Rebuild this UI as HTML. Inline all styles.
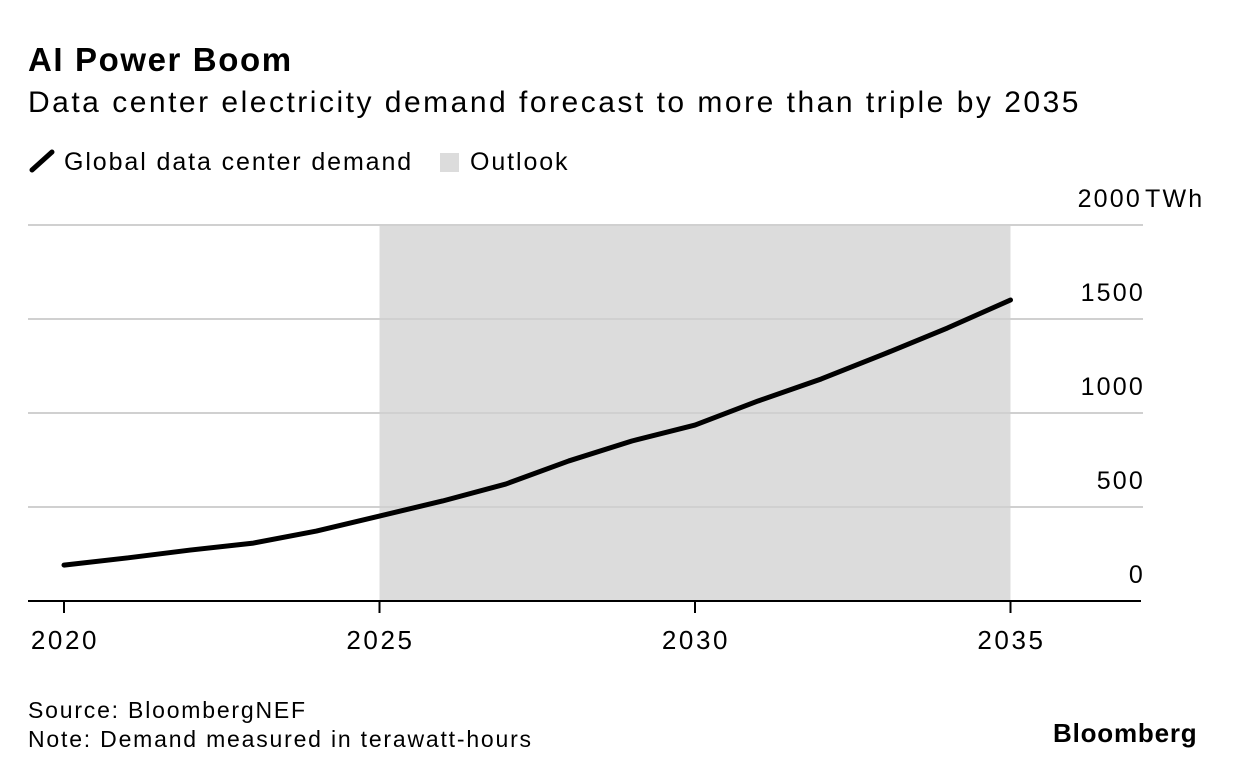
<!DOCTYPE html>
<html><head><meta charset="utf-8"><style>
body{margin:0;background:#fff;font-family:"Liberation Sans",sans-serif;color:#000;}
#wrap{position:relative;width:1233px;height:778px;overflow:hidden;}
.t{position:absolute;white-space:nowrap;}
</style></head><body>
<div id="wrap">
<div class="t" style="left:28px;top:41px;font-size:33px;font-weight:bold;letter-spacing:1.6px;">AI Power Boom</div>
<div class="t" style="left:28px;top:86px;font-size:30px;letter-spacing:2.5px;">Data center electricity demand forecast to more than triple by 2035</div>
<div class="t" style="left:28px;top:148px;font-size:25px;letter-spacing:1.9px;"><svg width="30" height="26" style="vertical-align:-4px;margin-right:6px"><line x1="4" y1="22" x2="24" y2="4" stroke="#000" stroke-width="5" stroke-linecap="round"/></svg>Global data center demand</div>
<div class="t" style="left:440px;top:148px;font-size:25px;letter-spacing:1.9px;"><span style="display:inline-block;width:19px;height:19px;background:#dcdcdc;vertical-align:-2px;margin-right:11px"></span>Outlook</div>
<svg id="chart" width="1233" height="778" style="position:absolute;left:0;top:0"></svg>
<div class="t" style="left:28px;top:697px;font-size:23px;letter-spacing:1.8px;">Source: BloombergNEF</div>
<div class="t" style="left:28px;top:726px;font-size:23px;letter-spacing:1.8px;">Note: Demand measured in terawatt-hours</div>
<div class="t" style="left:1053px;top:718px;font-size:26px;font-weight:bold;letter-spacing:0.8px;">Bloomberg</div>
</div>
<script>
const years=[2020,2021,2022,2023,2024,2025,2026,2027,2028,2029,2030,2031,2032,2033,2034,2035];
const demand=[191,229,271,308,372,452,532,622,745,851,936,1064,1181,1314,1452,1601];
const yTicks=[0,500,1000,1500,2000];
const xTicks=[2020,2025,2030,2035];
const outlook=[2025,2035];
const NS="http://www.w3.org/2000/svg";
const svg=document.getElementById('chart');
const x=v=>64+(v-2020)*63.1;
const y=v=>601-v*0.188;
function el(t,a){const e=document.createElementNS(NS,t);for(const k in a)e.setAttribute(k,a[k]);svg.appendChild(e);return e;}
const sh=el('rect',{x:x(outlook[0]),y:y(2000),width:x(outlook[1])-x(outlook[0]),height:y(0)-y(2000),fill:'#dcdcdc'});


yTicks.forEach(v=>{
 if(v>0){const g=el('line',{x1:28,x2:1143,y1:y(v),y2:y(v),stroke:'#d0d0d0','stroke-width':2});
 
 }
 const t=el('text',{x:v===2000?1142:1145,y:y(v)-18,'text-anchor':'end','font-size':25,'letter-spacing':2.2,'font-family':'Liberation Sans, sans-serif'});
 t.textContent=v;
 
 
});
const u=el('text',{x:1145,y:y(2000)-18,'font-size':25,'letter-spacing':2.2,'font-family':'Liberation Sans, sans-serif'});
u.textContent='TWh';


const ax=el('line',{x1:28,x2:1141,y1:601,y2:601,stroke:'#000','stroke-width':2});


xTicks.forEach(v=>{
 const tk=el('line',{x1:x(v),x2:x(v),y1:601,y2:613,stroke:'#000','stroke-width':2});
 
 
 const t=el('text',{x:x(v)+1,y:649,'text-anchor':'middle','font-size':26,'letter-spacing':2.6,'font-family':'Liberation Sans, sans-serif'});
 t.textContent=v;
 
 
});
const ln=el('polyline',{points:years.map((yr,i)=>x(yr)+','+y(demand[i])).join(' '),fill:'none',stroke:'#000','stroke-width':5,'stroke-linejoin':'round','stroke-linecap':'round'});


</script>
</body></html>
